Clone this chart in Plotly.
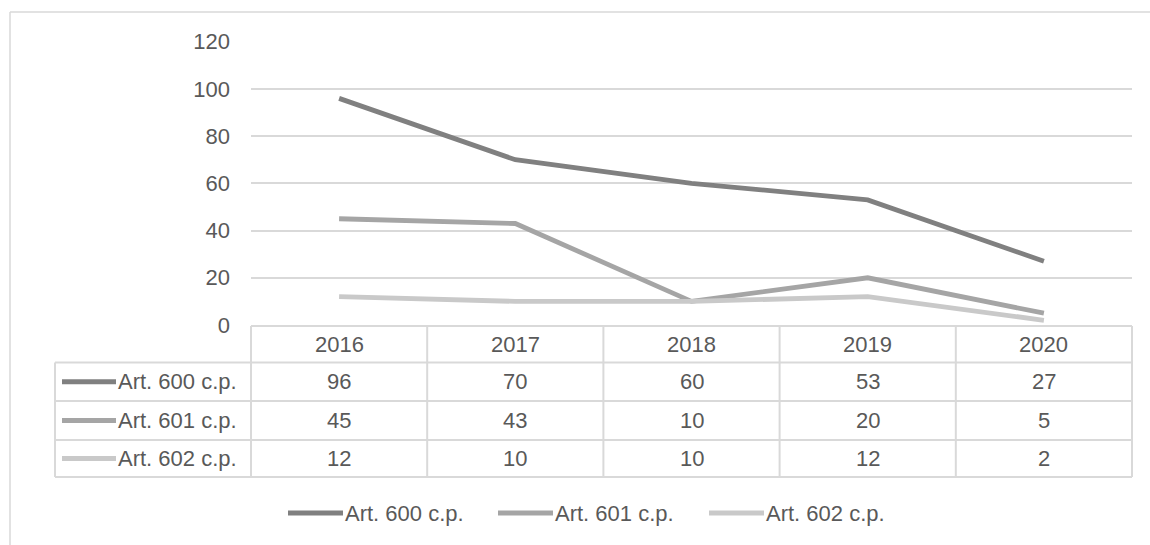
import plotly.graph_objects as go

years = ["2016", "2017", "2018", "2019", "2020"]
series_names = ["Art. 600 c.p.", "Art. 601 c.p.", "Art. 602 c.p."]
art600 = [96, 70, 60, 53, 27]
art601 = [45, 43, 10, 20, 5]
art602 = [12, 10, 10, 12, 2]
series_values = [art600, art601, art602]
series_colors = ["#808080", "#a5a5a5", "#c9c9c9"]
y_ticks = [0, 20, 40, 60, 80, 100, 120]

W, H = 1150, 545
FONT = "Liberation Sans"
FS = 22
TXT = "#595959"
GRID = "#d9d9d9"


def px(x):
    return x / W


def py(y):
    return 1 - y / H


PLOT_L, PLOT_R = 251, 1132
PLOT_B, PLOT_T = 325, 41.7
ncol = len(years)
colw = (PLOT_R - PLOT_L) / ncol


def col_center(i):
    return PLOT_L + (i + 0.5) * colw


fig = go.Figure()
for name, vals, col in zip(series_names, series_values, series_colors):
    fig.add_trace(go.Scatter(
        x=years, y=vals, name=name, mode="lines",
        line=dict(color=col, width=4.8), showlegend=False,
        hoverinfo="x+y+name",
    ))

shapes = []
annotations = []

# outer chart border (top and left visible)
shapes.append(dict(type="line", xref="paper", yref="paper", x0=px(10), x1=1.0,
                   y0=py(12), y1=py(12), line=dict(color=GRID, width=1.5)))
shapes.append(dict(type="line", xref="paper", yref="paper", x0=px(10), x1=px(10),
                   y0=py(12), y1=0, line=dict(color=GRID, width=1.5)))

# data table
row_lines = [326, 362.5, 401, 440, 477]
TABLE_L = 55
shapes.append(dict(type="line", xref="paper", yref="paper", x0=px(PLOT_L), x1=px(PLOT_R),
                   y0=py(row_lines[0]), y1=py(row_lines[0]), line=dict(color=GRID, width=2)))
for yl in row_lines[1:]:
    shapes.append(dict(type="line", xref="paper", yref="paper", x0=px(TABLE_L), x1=px(PLOT_R),
                       y0=py(yl), y1=py(yl), line=dict(color=GRID, width=2)))
shapes.append(dict(type="line", xref="paper", yref="paper", x0=px(TABLE_L), x1=px(TABLE_L),
                   y0=py(row_lines[1]), y1=py(row_lines[-1]), line=dict(color=GRID, width=2)))
for i in range(ncol + 1):
    xv = PLOT_L + i * colw
    shapes.append(dict(type="line", xref="paper", yref="paper", x0=px(xv), x1=px(xv),
                       y0=py(row_lines[0]), y1=py(row_lines[-1]), line=dict(color=GRID, width=2)))

# header texts
hdr_c = (row_lines[0] + row_lines[1]) / 2
for i, yr in enumerate(years):
    annotations.append(dict(x=px(col_center(i)), xref="paper", y=py(hdr_c), yref="paper", text=yr,
                            showarrow=False, xanchor="center", yanchor="middle",
                            font=dict(family=FONT, size=FS, color=TXT)))
# rows
for r, (name, vals, col) in enumerate(zip(series_names, series_values, series_colors)):
    yc = (row_lines[r + 1] + row_lines[r + 2]) / 2
    shapes.append(dict(type="line", xref="paper", yref="paper", x0=px(62), x1=px(116),
                       y0=py(yc), y1=py(yc), line=dict(color=col, width=5)))
    annotations.append(dict(x=px(116), xref="paper", y=py(yc), yref="paper", text=name,
                            showarrow=False, xanchor="left", yanchor="middle",
                            font=dict(family=FONT, size=FS, color=TXT)))
    for i, v in enumerate(vals):
        annotations.append(dict(x=px(col_center(i)), xref="paper", y=py(yc), yref="paper", text=str(v),
                                showarrow=False, xanchor="center", yanchor="middle",
                                font=dict(family=FONT, size=FS, color=TXT)))

# bottom legend
leg_y = 513
leg_x = [288, 498, 709]
for name, col, lx in zip(series_names, series_colors, leg_x):
    shapes.append(dict(type="line", xref="paper", yref="paper", x0=px(lx), x1=px(lx + 55),
                       y0=py(leg_y), y1=py(leg_y), line=dict(color=col, width=5)))
    annotations.append(dict(x=px(lx + 55), xref="paper", y=py(leg_y), yref="paper", text=name,
                            showarrow=False, xanchor="left", yanchor="middle",
                            font=dict(family=FONT, size=FS, color=TXT)))

fig.update_layout(
    template="none",
    width=W, height=H,
    margin=dict(l=0, r=0, t=0, b=0, pad=0),
    paper_bgcolor="white", plot_bgcolor="white",
    showlegend=False,
    xaxis=dict(type="category", domain=[px(PLOT_L), px(PLOT_R)], range=[-0.5, ncol - 0.5],
               showticklabels=False, showgrid=False, zeroline=False, showline=False, ticks="",
               automargin=False),
    yaxis=dict(domain=[py(PLOT_B), py(PLOT_T)], range=[0, 120], tickvals=y_ticks,
               showgrid=True, gridcolor=GRID, gridwidth=1.5, zeroline=False, showline=False,
               ticks="", ticklabelstandoff=20, automargin=False,
               tickfont=dict(family=FONT, size=FS, color=TXT)),
    shapes=shapes, annotations=annotations,
    font=dict(family=FONT, color=TXT),
)

fig.write_html("out.html")
